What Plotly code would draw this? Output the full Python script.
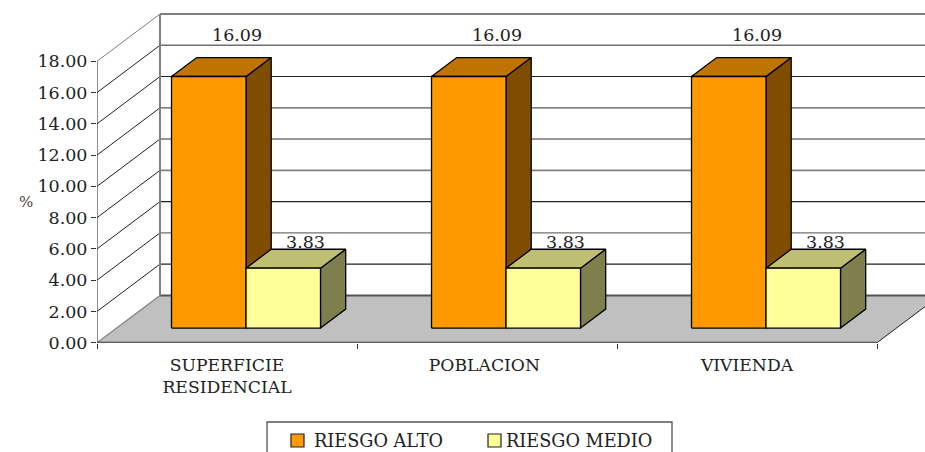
import plotly.graph_objects as go

categories = ["SUPERFICIE<br>RESIDENCIAL", "POBLACION", "VIVIENDA"]
riesgo_alto = [16.09, 16.09, 16.09]
riesgo_medio = [3.83, 3.83, 3.83]
y_ticks = [0, 2, 4, 6, 8, 10, 12, 14, 16, 18]
series_names = ["RIESGO ALTO", "RIESGO MEDIO"]

W, H = 925, 452
X0, X1, Y0, Y18 = 97, 877, 342.7, 61.3
PX_X = (X1 - X0) / 3
PX_Y = (Y0 - Y18) / 18
DX = 63 / PX_X      # full depth, category units
DY = 47.3 / PX_Y    # full depth, value units
D_FRONT, D_BACK = 0.31, 0.71
LEFT, BAR_W = 0.2115, 0.2865
FONT = "DejaVu Serif"
TXT = "#222222"
X_END = (W - X0) / PX_X
Y_END = Y0 / PX_Y


def proj(x, y, d):
    return x + d * DX, y + d * DY


fig = go.Figure()


def poly(pts, fill, line="black", width=1.3):
    xs = [p[0] for p in pts] + [pts[0][0]]
    ys = [p[1] for p in pts] + [pts[0][1]]
    fig.add_trace(go.Scatter(x=xs, y=ys, mode="lines", fill="toself", fillcolor=fill,
                             line=dict(color=line, width=width),
                             showlegend=False, hoverinfo="skip"))


def path(pts, color, width):
    fig.add_trace(go.Scatter(x=[p[0] for p in pts], y=[p[1] for p in pts], mode="lines",
                             line=dict(color=color, width=width),
                             showlegend=False, hoverinfo="skip"))


# floor
poly([(0, 0), (3, 0), proj(3, 0, 1), proj(0, 0, 1)], "#C0C0C0", "rgba(0,0,0,0)", 0)
path([proj(0, 0, 1), proj(3.3, 0, 1)], "#555555", 2)
path([(3, 0), proj(3, 0, 1)], "#222222", 1)
path([(0, 0), proj(0, 0, 1)], "#808080", 1.2)

# walls: side gridlines, back gridlines
grid_colors = {18: "#808080", 16: "#707070", 14: "#222222", 12: "#555555", 10: "#333333",
               8: "#808080", 6: "#222222", 4: "#707070", 2: "#222222"}
grid_widths = {18: 2, 16: 1.4, 14: 1.1, 12: 1.3, 10: 1.1, 8: 1.7, 6: 1.1, 4: 1.4, 2: 1.1}
for v in y_ticks[1:]:
    side_col = "#808080" if v == 18 else "#222222"
    path([(0, v), proj(0, v, 1)], side_col, 1)
    path([proj(0, v, 1), proj(3.3, v, 1)], grid_colors[v], grid_widths[v])
path([proj(0, 0, 1), proj(0, 18, 1)], "#808080", 2)

# axis lines, ending where the reference ends them
path([(0, 0), (0, 18)], "#222222", 1)
path([(0, 0), (3, 0)], "#333333", 2)

# bars
styles = [("#FF9900", "#BF7300", "#7F4C00"), ("#FFFF99", "#BFBF73", "#7F7F4D")]
annots = []
for i in range(len(categories)):
    for s, vals in enumerate([riesgo_alto, riesgo_medio]):
        v = vals[i]
        xa = i + LEFT + s * BAR_W
        xb = xa + BAR_W
        front, top, side = styles[s]
        poly([proj(xb, 0, D_FRONT), proj(xb, 0, D_BACK), proj(xb, v, D_BACK), proj(xb, v, D_FRONT)], side)
        poly([proj(xa, v, D_FRONT), proj(xb, v, D_FRONT), proj(xb, v, D_BACK), proj(xa, v, D_BACK)], top)
        poly([proj(xa, 0, D_FRONT), proj(xb, 0, D_FRONT), proj(xb, v, D_FRONT), proj(xa, v, D_FRONT)], front)
        ax, ay = proj((xa + xb) / 2, v, D_BACK)
        shift_x, shift_y = (3, 23) if s == 0 else (-3, 7)
        annots.append(dict(x=ax, y=ay, xref="x", yref="y", text=f"{v:.2f}", showarrow=False,
                           xshift=shift_x, yshift=shift_y, yanchor="middle", xanchor="center",
                           font=dict(family=FONT, size=17.5, color=TXT)))

annots.append(dict(x=17, y=H - 202, xref="paper", yref="paper", text="%", showarrow=False,
                   font=dict(family=FONT, size=15, color="#444444")))

# legend drawn by hand to keep its spacing
shapes = [dict(type="rect", xref="paper", yref="paper", x0=267, x1=672, y0=H - 422, y1=-20,
               line=dict(color="#555555", width=1.3), fillcolor="white")]
legend_pos = [(291, 312), (488, 504)]
for s, name in enumerate(series_names):
    sx, tx = legend_pos[s]
    shapes.append(dict(type="rect", xref="paper", yref="paper", x0=sx, x1=sx + 13, y0=H - 447, y1=H - 434,
                       line=dict(color="#222222", width=1.2), fillcolor=styles[s][0]))
    annots.append(dict(x=tx, y=H - 440.5, xref="paper", yref="paper", text=name, showarrow=False,
                       xanchor="left", yanchor="middle", font=dict(family=FONT, size=17.7, color=TXT)))

# convert paper positions given in pixels
for a in annots:
    if a["xref"] == "paper":
        a["x"] /= W
        a["y"] /= H
for sh in shapes:
    sh["x0"] /= W
    sh["x1"] /= W
    sh["y0"] /= H
    sh["y1"] /= H

fig.update_layout(
    width=W, height=H, margin=dict(l=0, r=0, t=0, b=0, autoexpand=False), paper_bgcolor="white",
    plot_bgcolor="rgba(0,0,0,0)",
    showlegend=False, annotations=annots, shapes=shapes,
    font=dict(family=FONT, color=TXT),
    xaxis=dict(domain=[X0 / W, 1], range=[0, X_END], tickvals=[0.5, 1.49, 2.5], ticktext=categories,
               ticks="", showgrid=False, zeroline=False, showline=False, automargin=False,
               tickfont=dict(family=FONT, size=17.2, color=TXT), ticklabelstandoff=10, tickangle=0,
               minor=dict(tickvals=[0, 1, 2, 3], ticks="outside", ticklen=5, tickcolor="#333333", tickwidth=1)),
    yaxis=dict(domain=[(H - Y0) / H, 1], range=[0, Y_END], tickvals=y_ticks,
               ticktext=[f"{t:.2f}" for t in y_ticks], ticks="outside", ticklen=5, tickcolor="#333333",
               showgrid=False, zeroline=False, showline=False, automargin=False,
               tickfont=dict(family=FONT, size=17.5, color=TXT)),
)
fig.write_html("out.html", config=dict(displayModeBar=False),
               post_script="document.body.style.margin='0';document.body.style.overflow='hidden';")
